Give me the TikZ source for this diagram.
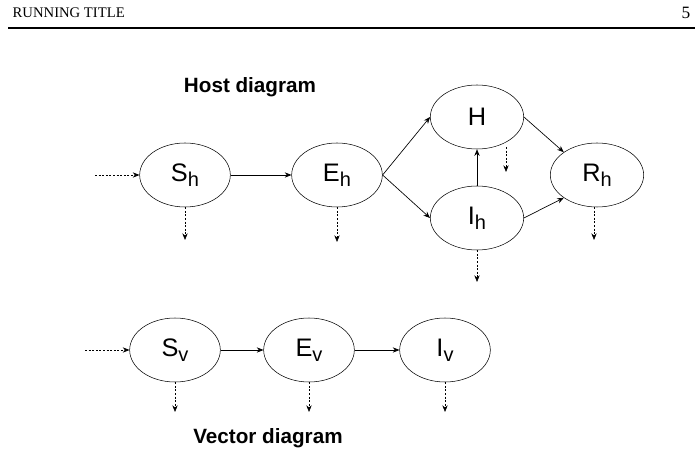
\documentclass[tikz,border=0pt]{standalone}
\usepackage{fontspec}
\setmainfont{Liberation Serif}
\newfontfamily\sansf{Liberation Sans}
\usetikzlibrary{arrows.meta,shapes.geometric}
\newcommand{\sbs}[1]{\raisebox{-0.35ex}{\fontsize{15}{15}\selectfont #1}}
\begin{document}
\begin{tikzpicture}[x=0.75pt,y=-0.75pt,
  st/.style={ellipse,draw,minimum width=68pt,minimum height=48pt,inner sep=0pt,font=\sansf\fontsize{19}{19}\selectfont},
  ar/.style={-{Stealth[length=5pt,width=4pt]},line width=0.5pt},
  dar/.style={ar,dash pattern=on 1.5pt off 1.2pt},
  ttl/.style={font=\sansf\bfseries\fontsize{15.5}{15.5}\selectfont}]
\useasboundingbox (0,0) rectangle (700,470);
\node[anchor=west,font=\fontsize{11}{11}\selectfont] (rt) at (8,13) {RUNNING TITLE};
\node[anchor=east,font=\fontsize{13}{13}\selectfont] (pg) at (695,13) {5};
\coordinate (l1) at (8,28); \coordinate (l2) at (695,28);
\draw[line width=0.8pt] (l1) -- (l2);
\node[ttl] (hd) at (250,87) {Host diagram};
\node[ttl] (vd) at (268,438) {Vector diagram};
\node[st] (Sh) at (185,175) {S\sbs{h}};
\node[st] (Eh) at (337,175) {E\sbs{h}};
\node[st,minimum width=70pt] (H) at (477,117) {H};
\node[st,minimum width=70pt] (Ih) at (477,218) {I\sbs{h}};
\node[st,minimum width=70pt] (Rh) at (597,175) {R\sbs{h}};
\node[st] (Sv) at (175,350) {S\sbs{v}};
\node[st] (Ev) at (309,350) {E\sbs{v}};
\node[st] (Iv) at (445,350) {I\sbs{v}};
\draw[ar] (Sh) -- (Eh);
\draw[ar] (Eh.east) -- (H.west);
\draw[ar] (Eh.east) -- (Ih.west);
\draw[ar] (Ih) -- (H);
\draw[ar] (H.east) -- (Rh.north west);
\draw[ar] (Ih.east) -- (Rh.south west);
\draw[ar] (Sv) -- (Ev);
\draw[ar] (Ev) -- (Iv);
\coordinate (i1) at (95,175); \coordinate (i2) at (85,350);
\draw[dar] (i1) -- (Sh);
\draw[dar] (i2) -- (Sv);
\coordinate (d1) at (185,240); \draw[dar] (Sh.south) -- (d1);
\coordinate (d2) at (337,242); \draw[dar] (Eh.south) -- (d2);
\coordinate (d3a) at (506,147); \coordinate (d3) at (506,172); \draw[dar] (d3a) -- (d3);
\coordinate (d4) at (477,282); \draw[dar] (Ih.south) -- (d4);
\coordinate (d5a) at (594,207); \coordinate (d5) at (594,240); \draw[dar] (d5a) -- (d5);
\coordinate (d6) at (175,412); \draw[dar] (Sv.south) -- (d6);
\coordinate (d7) at (309,412); \draw[dar] (Ev.south) -- (d7);
\coordinate (d8) at (445,412); \draw[dar] (Iv.south) -- (d8);
\end{tikzpicture}
\end{document}
